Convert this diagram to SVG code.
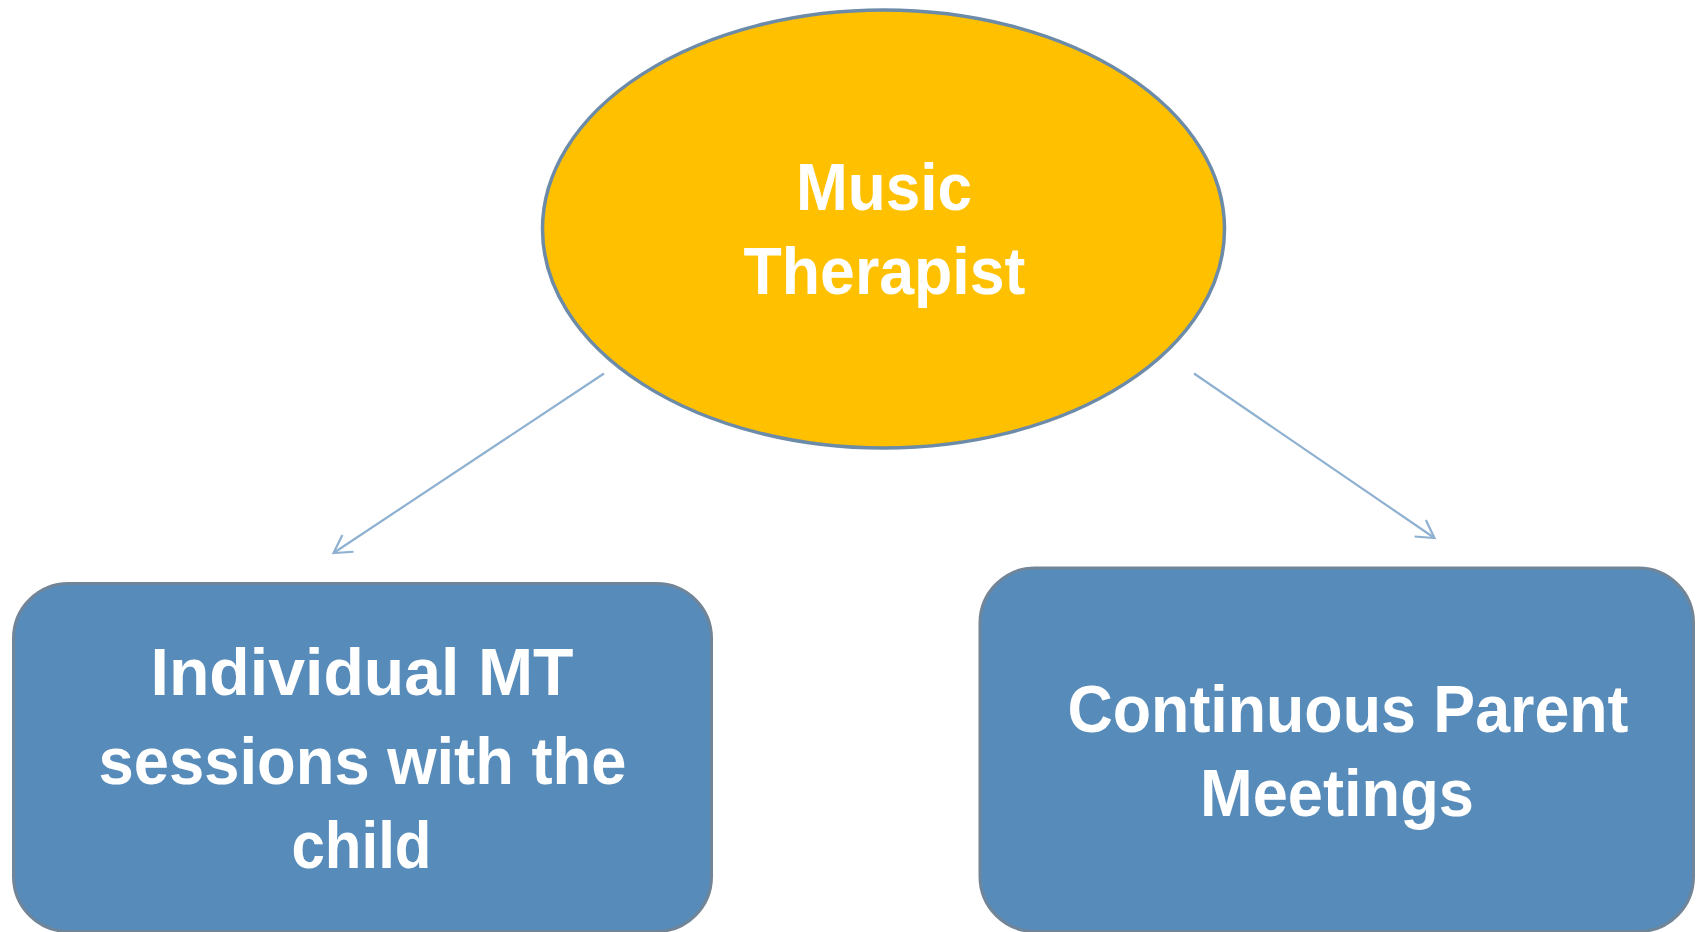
<svg xmlns="http://www.w3.org/2000/svg" width="1698" height="932" viewBox="0 0 1698 932">
  <style>
    .lbl { font-family: "Liberation Sans", Arial, sans-serif; font-weight: bold; font-size: 66px; fill: #FFFFFF; text-anchor: middle; }
    .box { fill: #578BB9; stroke: #718599; stroke-width: 3; }
    .oval { fill: #FFC000; stroke: #6C8BA8; stroke-width: 3.5; }
    .conn { fill: none; stroke: #8EB0D1; stroke-width: 2.2; }
  </style>
  <defs>
    <marker id="arrow" markerUnits="userSpaceOnUse" viewBox="0 0 24 26" markerWidth="24" markerHeight="26" refX="21" refY="13" orient="auto">
      <path d="M3.7,3 L21,13 L3.7,23" fill="none" stroke="#8EB0D1" stroke-width="2.2"/>
    </marker>
  </defs>
  <rect width="1698" height="932" fill="#FFFFFF"/>
  <g id="connectors">
    <line class="conn" x1="604" y1="373.5" x2="333.5" y2="553" marker-end="url(#arrow)"/>
    <line class="conn" x1="1194" y1="373.5" x2="1434.5" y2="538" marker-end="url(#arrow)"/>
  </g>
  <g id="music-therapist">
    <ellipse class="oval" cx="883.5" cy="229" rx="341" ry="219"/>
    <text class="lbl" x="884" y="210" textLength="176" lengthAdjust="spacingAndGlyphs">Music</text>
    <text class="lbl" x="884.5" y="294" textLength="282" lengthAdjust="spacingAndGlyphs">Therapist</text>
  </g>
  <g id="individual-sessions">
    <rect class="box" x="13.5" y="583.5" width="698" height="348" rx="55" ry="55"/>
    <text class="lbl" x="362" y="695" textLength="423" lengthAdjust="spacingAndGlyphs">Individual MT</text>
    <text class="lbl" x="362.5" y="783.5" textLength="528" lengthAdjust="spacingAndGlyphs">sessions with the</text>
    <text class="lbl" x="361.5" y="867.5" textLength="140" lengthAdjust="spacingAndGlyphs">child</text>
  </g>
  <g id="parent-meetings">
    <rect class="box" x="980" y="568" width="713.5" height="363.5" rx="55" ry="55"/>
    <text class="lbl" x="1348" y="731.5" textLength="561" lengthAdjust="spacingAndGlyphs">Continuous Parent</text>
    <text class="lbl" x="1337" y="816" textLength="274" lengthAdjust="spacingAndGlyphs">Meetings</text>
  </g>
</svg>
